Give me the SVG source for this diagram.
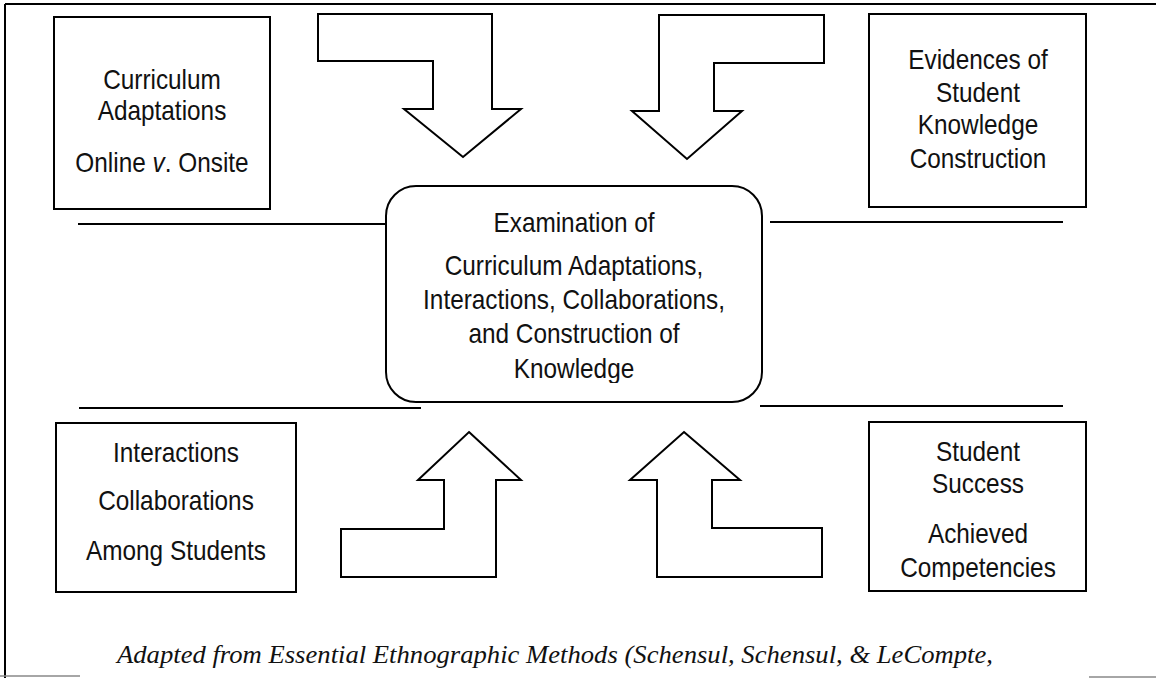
<svg xmlns="http://www.w3.org/2000/svg" width="1156" height="678" viewBox="0 0 1156 678">
<style>
.box{fill:#fff;stroke:#000;stroke-width:2}
.arr{fill:#fff;stroke:#000;stroke-width:2;stroke-linejoin:miter}
.ln{stroke:#000;stroke-width:2;fill:none}
.t{font-family:"Liberation Sans",Arial,sans-serif;font-size:28px;fill:#111;text-anchor:middle}
.cap{font-family:"Liberation Serif","Times New Roman",serif;font-style:italic;font-size:26px;fill:#111}
</style>
<defs>
<clipPath id="clipK"><rect x="380" y="180" width="390" height="203"/></clipPath>
<clipPath id="clipC"><rect x="860" y="415" width="240" height="165"/></clipPath>
<clipPath id="clipCap"><rect x="0" y="600" width="1156" height="69"/></clipPath>
</defs>
<rect width="1156" height="678" fill="#fff"/>
<g id="frame">
<line class="ln" x1="5" y1="4" x2="1156" y2="4"/>
<line class="ln" x1="5" y1="4" x2="5" y2="678"/>
<line x1="0" y1="676" x2="80" y2="676" stroke="#888" stroke-width="1.5"/>
<line x1="1089" y1="677" x2="1156" y2="677" stroke="#888" stroke-width="1.5"/>
</g>
<g id="connectors">
<line class="ln" x1="78" y1="224" x2="395" y2="224"/>
<line class="ln" x1="770" y1="222" x2="1063" y2="222"/>
<line class="ln" x1="79" y1="408" x2="421" y2="408"/>
<line class="ln" x1="760" y1="406" x2="1063" y2="406"/>
<polygon id="arrow-tl" class="arr" points="318,14 492,14 492,109 521,109 463,157 404,109 433,109 433,61 318,61"/>
<polygon id="arrow-tr" class="arr" points="659,15 824,15 824,63 714,63 714,111 742,111 687,159 632,111 659,111"/>
<polygon id="arrow-bl" class="arr" points="469,432 521,480 496,480 496,577 341,577 341,529 444,529 444,480 418,480"/>
<polygon id="arrow-br" class="arr" points="684,432 740,480 712,480 712,528 822,528 822,577 657,577 657,480 630,480"/>
</g>
<g id="node-curriculum">
<rect class="box" x="54" y="17" width="216" height="192"/>
<text class="t" transform="translate(162,89) scale(0.87,1)">Curriculum</text>
<text class="t" transform="translate(162,120) scale(0.87,1)">Adaptations</text>
<text class="t" transform="translate(162,172) scale(0.87,1)">Online <tspan font-style="italic">v</tspan>. Onsite</text>
</g>
<g id="node-evidences">
<rect class="box" x="869" y="14" width="217" height="193"/>
<text class="t" transform="translate(978,69) scale(0.87,1)">Evidences of</text>
<text class="t" transform="translate(978,102) scale(0.87,1)">Student</text>
<text class="t" transform="translate(978,134) scale(0.87,1)">Knowledge</text>
<text class="t" transform="translate(978,168) scale(0.87,1)">Construction</text>
</g>
<g id="node-examination">
<rect class="box" x="386" y="186" width="376" height="216" rx="30" ry="30"/>
<g clip-path="url(#clipK)">
<text class="t" transform="translate(574,232) scale(0.87,1)">Examination of</text>
<text class="t" transform="translate(574,275) scale(0.87,1)">Curriculum Adaptations,</text>
<text class="t" transform="translate(574,309) scale(0.87,1)">Interactions, Collaborations,</text>
<text class="t" transform="translate(574,343) scale(0.87,1)">and Construction of</text>
<text class="t" transform="translate(574,378) scale(0.87,1)">Knowledge</text>
</g>
</g>
<g id="node-interactions">
<rect class="box" x="56" y="423" width="240" height="169"/>
<text class="t" transform="translate(176,462) scale(0.87,1)">Interactions</text>
<text class="t" transform="translate(176,510) scale(0.87,1)">Collaborations</text>
<text class="t" transform="translate(176,560) scale(0.87,1)">Among Students</text>
</g>
<g id="node-success">
<rect class="box" x="869" y="422" width="217" height="169"/>
<g clip-path="url(#clipC)">
<text class="t" transform="translate(978,461) scale(0.87,1)">Student</text>
<text class="t" transform="translate(978,493) scale(0.87,1)">Success</text>
<text class="t" transform="translate(978,543) scale(0.87,1)">Achieved</text>
<text class="t" transform="translate(978,577) scale(0.87,1)">Competencies</text>
</g>
</g>
<g id="caption" clip-path="url(#clipCap)">
<text class="cap" x="117" y="663" textLength="876" lengthAdjust="spacingAndGlyphs">Adapted from Essential Ethnographic Methods (Schensul, Schensul, &amp; LeCompte,</text>
</g>
</svg>
